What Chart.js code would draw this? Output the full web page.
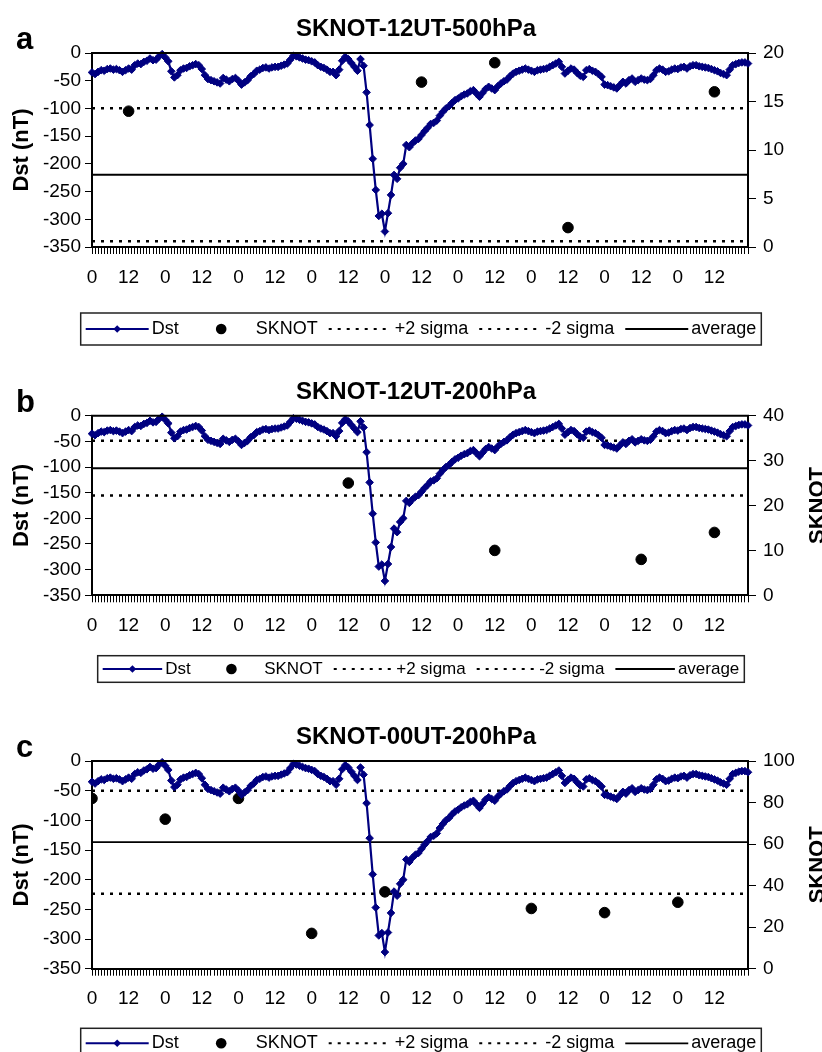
<!DOCTYPE html>
<html>
<head>
<meta charset="utf-8">
<script src="https://cdn.jsdelivr.net/npm/chart.js@4.4.1/dist/chart.umd.min.js"></script>
<style>
html, body { margin: 0; padding: 0; background: #fff; width: 822px; height: 1052px; overflow: hidden; }
canvas { position: absolute; left: 0; }
</style>
</head>
<body>
<canvas id="ca" width="822" height="356" style="top:0px"></canvas>
<canvas id="cb" width="822" height="338" style="top:362px"></canvas>
<canvas id="cc" width="822" height="346" style="top:706px"></canvas>
<script>
// hourly Dst (nT), 9 days, one row per day
const dst = [
  -35,-38,-34,-31,-32,-29,-28,-30,-29,-31,-34,-31,-28,-30,-22,-19,-20,-16,-14,-10,-13,-12,-6,-2,
  -8,-15,-33,-44,-40,-31,-28,-27,-24,-22,-20,-22,-29,-40,-47,-49,-51,-53,-55,-45,-48,-51,-47,-45,
  -50,-57,-53,-49,-42,-38,-32,-30,-27,-26,-28,-26,-25,-25,-23,-21,-19,-12,-5,-6,-8,-10,-12,-13,
  -15,-17,-22,-25,-27,-30,-34,-34,-40,-30,-14,-7,-11,-18,-25,-32,-11,-23,-71,-130,-191,-247,-294,-290,
  -322,-289,-256,-220,-227,-207,-200,-166,-170,-163,-158,-155,-148,-141,-135,-128,-126,-122,-113,-106,-100,-96,-90,-85,
  -82,-78,-75,-73,-69,-67,-73,-79,-72,-65,-61,-64,-67,-60,-55,-51,-48,-42,-37,-34,-32,-30,-28,-30,
  -32,-34,-31,-30,-29,-28,-25,-22,-19,-16,-25,-37,-32,-28,-30,-36,-41,-43,-31,-29,-32,-34,-38,-43,
  -57,-58,-60,-62,-64,-58,-52,-55,-49,-46,-52,-49,-46,-48,-49,-47,-40,-31,-28,-30,-34,-33,-30,-28,
  -29,-26,-25,-28,-24,-22,-22,-24,-25,-26,-27,-29,-31,-33,-36,-38,-40,-30,-22,-20,-18,-17,-17,-19
];
// x tick labels by hour of day
const hourLabels = { 0: '0', 12: '12' };

// SKNOT points (hour index, value) and sigma lines [+2 sigma, -2 sigma, average]
const sknotHoursA = [12, 108, 132, 156, 204];
const sknotA      = [14, 17, 19, 2, 16];
const sigmaA      = [14.3, 0.6, 7.45];

const sknotHoursB = [84, 132, 180, 204];
const sknotB      = [25, 10, 8, 14];
const sigmaB      = [34.4, 22.2, 28.3];

const sknotHoursC = [0, 24, 48, 72, 96, 144, 168, 192];
const sknotC      = [82, 72, 82, 17, 37, 29, 27, 32];
const sigmaC      = [85.7, 36.1, 60.9];

const legendNames = ['Dst', 'SKNOT', '+2 sigma', '-2 sigma', 'average'];

const FONT = 'Arial, "Liberation Sans", Helvetica, sans-serif';
const NAVY = '#000080';
Chart.defaults.font.family = FONT;
Chart.defaults.color = '#000';

const decor = {
  id: 'decor',
  afterDraw(chart, args, o) {
    const ctx = chart.ctx, ca = chart.chartArea;
    ctx.save();
    // top frame line
    ctx.strokeStyle = '#000'; ctx.lineWidth = 2;
    ctx.beginPath(); ctx.moveTo(ca.left - 1, ca.top); ctx.lineTo(ca.right + 1, ca.top); ctx.stroke();
    // title + panel letter
    ctx.fillStyle = '#000';
    ctx.textBaseline = 'alphabetic';
    ctx.textAlign = 'center';
    ctx.font = 'bold 24px ' + FONT;
    ctx.fillText(o.title, (ca.left + ca.right) / 2 - 4, ca.top - 17);
    ctx.textAlign = 'left';
    ctx.font = 'bold 31px ' + FONT;
    ctx.fillText(o.letter, 16, ca.top - 4);
    // right axis title, reading upward
    if (o.rightTitle) {
      ctx.save();
      ctx.translate(818, (ca.top + ca.bottom) / 2);
      ctx.rotate(-Math.PI / 2);
      ctx.textAlign = 'center'; ctx.textBaseline = 'middle';
      ctx.font = 'bold 22px ' + FONT;
      ctx.fillText(o.rightTitle, 0, 0);
      ctx.restore();
    }
    // legend box
    const f = o.legendFont;
    ctx.font = f + 'px ' + FONT;
    const sw = f * 3.5, g1 = 3, g2 = 11, padL = 5, padR = 5;
    const items = chart.data.datasets.map(ds => ({ ds: ds, w: ctx.measureText(ds.label).width }));
    const total = padL + padR + items.reduce((a, it) => a + sw + g1 + it.w, 0) + g2 * (items.length - 1);
    const x0 = 421 - total / 2, y0 = ca.bottom + o.legendGap, h = o.legendH, cy = y0 + h / 2;
    ctx.fillStyle = '#fff'; ctx.fillRect(x0, y0, total, h);
    ctx.strokeStyle = '#222'; ctx.lineWidth = 1.5; ctx.strokeRect(x0, y0, total, h);
    let x = x0 + padL;
    items.forEach(it => {
      const ds = it.ds;
      if (ds.showLine === false) {
        ctx.fillStyle = ds.pointBackgroundColor;
        ctx.beginPath(); ctx.arc(x + sw / 2, cy, ds.pointRadius, 0, Math.PI * 2); ctx.fill();
      } else {
        ctx.strokeStyle = ds.borderColor; ctx.lineWidth = Math.min(ds.borderWidth, 2);
        ctx.setLineDash(ds.borderDash || []);
        ctx.beginPath(); ctx.moveTo(x, cy); ctx.lineTo(x + sw, cy); ctx.stroke();
        ctx.setLineDash([]);
        if (ds.pointRadius > 0) {
          const r = ds.pointRadius, cx = x + sw / 2;
          ctx.fillStyle = ds.pointBackgroundColor;
          ctx.beginPath(); ctx.moveTo(cx - r, cy); ctx.lineTo(cx, cy - r); ctx.lineTo(cx + r, cy); ctx.lineTo(cx, cy + r);
          ctx.closePath(); ctx.fill();
        }
      }
      ctx.fillStyle = '#000'; ctx.textAlign = 'left'; ctx.textBaseline = 'middle';
      ctx.fillText(ds.label, x + sw + g1, cy);
      x += sw + g1 + it.w + g2;
    });
    ctx.restore();
  }
};

function makePanel(id, p) {
  const last = dst.length - 1;
  const flat = v => [{ x: 0, y: v }, { x: last, y: v }];
  const sknotPts = p.hours.map((hr, i) => ({ x: hr, y: p.vals[i] }));
  return new Chart(document.getElementById(id), {
    type: 'line',
    data: {
      datasets: [
        { label: legendNames[0], data: dst.map((v, i) => ({ x: i, y: v })), yAxisID: 'yL',
          borderColor: NAVY, backgroundColor: NAVY, borderWidth: 2.2, tension: 0,
          pointStyle: 'rectRot', pointRadius: 3.8, pointBorderWidth: 1,
          pointBackgroundColor: NAVY, pointBorderColor: NAVY, clip: 8 },
        { label: legendNames[1], data: sknotPts, yAxisID: 'yR', showLine: false,
          pointStyle: 'circle', pointRadius: 5.3, pointBackgroundColor: '#000',
          pointBorderColor: '#000', borderColor: '#000', backgroundColor: '#000' },
        { label: legendNames[2], data: flat(p.sigma[0]), yAxisID: 'yR', borderColor: '#000',
          borderWidth: 2.5, borderDash: [3, 6], pointRadius: 0 },
        { label: legendNames[3], data: flat(p.sigma[1]), yAxisID: 'yR', borderColor: '#000',
          borderWidth: 2.5, borderDash: [3, 6], pointRadius: 0 },
        { label: legendNames[4], data: flat(p.sigma[2]), yAxisID: 'yR', borderColor: '#000',
          borderWidth: 1.8, pointRadius: 0 }
      ]
    },
    options: {
      responsive: false,
      animation: false,
      events: [],
      layout: { padding: { top: p.padTop, bottom: p.padBottom, left: 0, right: 0 } },
      plugins: {
        legend: { display: false },
        tooltip: { enabled: false },
        decor: { title: p.title, letter: p.letter, rightTitle: p.rightTitle,
                 legendGap: p.legendGap, legendH: p.legendH, legendFont: p.legendFont }
      },
      scales: {
        x: {
          type: 'linear', min: 0, max: last,
          border: { display: true, color: '#000', width: 2 },
          grid: { drawOnChartArea: false, drawTicks: true, tickLength: 7, tickColor: '#000', tickWidth: 1 },
          ticks: { stepSize: 1, autoSkip: false, maxRotation: 0, minRotation: 0, padding: 12,
                   color: '#000', font: { size: 19 },
                   callback: v => (v % 12 === 0 ? hourLabels[v % 24] : '') },
          afterFit: s => { s.height = 40; }
        },
        yL: {
          position: 'left', min: -350, max: 0,
          border: { color: '#000', width: 2 },
          grid: { drawOnChartArea: false, tickLength: 7, tickColor: '#000' },
          ticks: { stepSize: 50, autoSkip: false, padding: 4, color: '#000', font: { size: 19 } },
          title: { display: true, text: 'Dst (nT)', color: '#000',
                   font: { size: 22, weight: 'bold' }, padding: { top: 9, bottom: 0 } },
          afterFit: s => { s.width = 92; }
        },
        yR: {
          position: 'right', min: 0, max: p.rMax,
          border: { color: '#000', width: 2 },
          grid: { drawOnChartArea: false, tickLength: 8, tickColor: '#000' },
          ticks: { stepSize: p.rStep, autoSkip: false, padding: 7, color: '#000', font: { size: 19 } },
          afterFit: s => { s.width = 74; }
        }
      }
    },
    plugins: [decor]
  });
}

makePanel('ca', { title: 'SKNOT-12UT-500hPa', letter: 'a', rightTitle: '',
  hours: sknotHoursA, vals: sknotA, sigma: sigmaA, rMax: 20, rStep: 5,
  padTop: 53, padBottom: 69, legendGap: 66, legendH: 32, legendFont: 18 });
makePanel('cb', { title: 'SKNOT-12UT-200hPa', letter: 'b', rightTitle: 'SKNOT',
  hours: sknotHoursB, vals: sknotB, sigma: sigmaB, rMax: 40, rStep: 10,
  padTop: 53.7, padBottom: 64.7, legendGap: 60.4, legendH: 26.6, legendFont: 17 });
makePanel('cc', { title: 'SKNOT-00UT-200hPa', letter: 'c', rightTitle: 'SKNOT',
  hours: sknotHoursC, vals: sknotC, sigma: sigmaC, rMax: 100, rStep: 20,
  padTop: 55, padBottom: 43.3, legendGap: 59.6, legendH: 30, legendFont: 18 });
</script>
</body>
</html>
